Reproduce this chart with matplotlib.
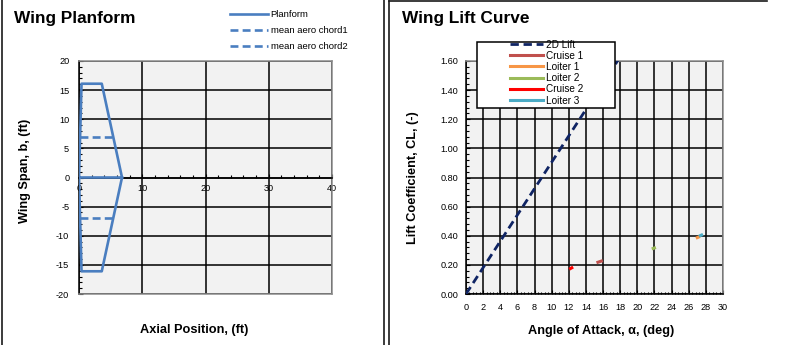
import matplotlib
matplotlib.use("Agg")
import matplotlib.pyplot as plt
from matplotlib.lines import Line2D
from matplotlib.patches import Rectangle
from matplotlib.ticker import MultipleLocator, FormatStrFormatter

plt.rcParams["font.family"] = ["Liberation Sans", "DejaVu Sans"]
plt.rcParams["axes.unicode_minus"] = False

# ---------------------------------------------------------------------------
# Data
# ---------------------------------------------------------------------------
planform_x = [6.8, 0.0, 0.4, 3.6, 6.8, 3.6, 0.4, 0.0]
planform_y = [0.0, 0.0, 16.1, 16.1, 0.0, -16.1, -16.1, 0.0]
mac1_x = [0.17, 5.43]
mac1_y = [6.9, 6.9]
mac2_x = [0.17, 5.43]
mac2_y = [-6.9, -6.9]

lift2d_alpha = [0.0, 20.0]
lift2d_cl = [0.0, 1.81]
cruise1_alpha = [15.4, 15.8]
cruise1_cl = [0.218, 0.226]
loiter1_alpha = [27.0, 27.15]
loiter1_cl = [0.387, 0.391]
loiter2_alpha = [21.85, 22.0]
loiter2_cl = [0.313, 0.316]
cruise2_alpha = [12.2, 12.35]
cruise2_cl = [0.175, 0.180]
loiter3_alpha = [27.35, 27.5]
loiter3_cl = [0.401, 0.405]

_BLUE = "#4A7EC0"
_NAVY = "#0F2464"
_PLOT_BG = "#F2F2F2"
_EDGE_GREY = "#8C8C8C"

W, H = 793, 345
fig = plt.figure(figsize=(W / 100, H / 100), dpi=100)


def fx(px):
    return px / W


def fy(py):
    return 1 - py / H


def _style_axes(ax):
    ax.set_facecolor(_PLOT_BG)
    ax.set_axisbelow(True)
    ax.grid(True, which="major", color="black", linewidth=1.1)
    for side in ("top", "right"):
        ax.spines[side].set_color(_EDGE_GREY)
        ax.spines[side].set_linewidth(1.1)
    for side in ("left", "bottom"):
        ax.spines[side].set_color("black")
        ax.spines[side].set_linewidth(1.1)
    ax.tick_params(which="both", direction="in", top=False, right=False,
                   labelsize=6.6, colors="black")
    ax.tick_params(which="major", length=3)
    ax.tick_params(which="minor", length=2, width=0.8)


# ---------------------------------------------------------------------------
# Left: wing planform
# ---------------------------------------------------------------------------
ax1 = fig.add_axes([fx(79), fy(294), fx(332 - 79), (294 - 61) / H])
_style_axes(ax1)
ax1.plot(planform_x, planform_y, color=_BLUE, linewidth=1.9,
         label="Planform", zorder=3)
ax1.plot(mac1_x, mac1_y, color=_BLUE, linewidth=1.9, linestyle=(0, (3, 1.6)),
         label="mean aero chord1", zorder=3)
ax1.plot(mac2_x, mac2_y, color=_BLUE, linewidth=1.9, linestyle=(0, (3, 1.6)),
         label="mean aero chord2", zorder=3)
ax1.set_xlim(0, 40)
ax1.set_ylim(-20, 20)
ax1.xaxis.set_major_locator(MultipleLocator(10))
ax1.xaxis.set_minor_locator(MultipleLocator(2))
ax1.yaxis.set_major_locator(MultipleLocator(5))
ax1.yaxis.set_minor_locator(MultipleLocator(1))
ax1.spines["bottom"].set_position(("data", 0))
ax1.tick_params(axis="x", pad=4.5)
ax1.tick_params(axis="y", pad=7)
# grey frame line at the bottom of the plot area
ax1.plot([0, 1], [0, 0], transform=ax1.transAxes, color=_EDGE_GREY,
         linewidth=1.1, clip_on=False, zorder=2.6)

fig.legend(
    handles=ax1.get_lines()[:3],
    loc="upper left", bbox_to_anchor=(fx(230), fy(10)),
    bbox_transform=fig.transFigure, frameon=False, fontsize=6.8,
    borderpad=0, borderaxespad=0, handlelength=4.0, handletextpad=0.3,
    labelspacing=0.75,
)

fig.text(fx(14), fy(19), "Wing Planform", fontsize=12.4, fontweight="bold",
         va="center", ha="left")
fig.text(fx(194), fy(330), "Axial Position, (ft)", fontsize=9.2,
         fontweight="bold", ha="center", va="center")
fig.text(fx(25), fy(171), "Wing Span, b, (ft)", fontsize=9.2,
         fontweight="bold", ha="center", va="center", rotation=90)

# ---------------------------------------------------------------------------
# Right: wing lift curve
# ---------------------------------------------------------------------------
ax2 = fig.add_axes([fx(466), fy(294), fx(723 - 466), (294 - 61) / H])
_style_axes(ax2)
ax2.plot(lift2d_alpha, lift2d_cl, color=_NAVY, linewidth=2.0,
         linestyle=(0, (3, 1.7)), label="2D Lift", zorder=3)
ax2.plot(cruise1_alpha, cruise1_cl, color="#C0504D", linewidth=2.2,
         label="Cruise 1", zorder=3)
ax2.plot(loiter1_alpha, loiter1_cl, color="#F79646", linewidth=2.2,
         label="Loiter 1", zorder=3)
ax2.plot(loiter2_alpha, loiter2_cl, color="#9BBB59", linewidth=2.2,
         label="Loiter 2", zorder=3)
ax2.plot(cruise2_alpha, cruise2_cl, color="#FF0000", linewidth=2.2,
         label="Cruise 2", zorder=3)
ax2.plot(loiter3_alpha, loiter3_cl, color="#4BACC6", linewidth=2.2,
         label="Loiter 3", zorder=3)
ax2.set_xlim(0, 30)
ax2.set_ylim(0, 1.6)
ax2.xaxis.set_major_locator(MultipleLocator(2))
ax2.xaxis.set_minor_locator(MultipleLocator(0.4))
ax2.yaxis.set_major_locator(MultipleLocator(0.2))
ax2.yaxis.set_minor_locator(MultipleLocator(0.04))
ax2.yaxis.set_major_formatter(FormatStrFormatter("%.2f"))
ax2.tick_params(axis="x", pad=6.5)
ax2.tick_params(axis="x", which="minor", length=1.5)
ax2.tick_params(axis="y", pad=5.5)

# legend box (white, black edge) sitting over the plot
fig.add_artist(Rectangle((fx(477), fy(108.3)), fx(615 - 477), (108.3 - 41.7) / H,
                         transform=fig.transFigure, facecolor="white",
                         edgecolor="black", linewidth=1.1, zorder=4))
fig.legend(
    handles=ax2.get_lines(),
    loc="upper left", bbox_to_anchor=(fx(510), fy(39.5)),
    bbox_transform=fig.transFigure, frameon=False, fontsize=7.2,
    borderpad=0, borderaxespad=0, handlelength=3.3, handletextpad=0.25,
    labelspacing=0.12,
)

fig.text(fx(402), fy(19), "Wing Lift Curve", fontsize=12.4, fontweight="bold",
         va="center", ha="left")
fig.text(fx(601), fy(331), "Angle of Attack, \u03b1, (deg)", fontsize=9.2,
         fontweight="bold", ha="center", va="center")
fig.text(fx(413), fy(178), "Lift Coefficient, CL, (-)", fontsize=9.2,
         fontweight="bold", ha="center", va="center", rotation=90)

# panel borders
for x0, y0, x1, y1 in [(2, 0, 2, 345), (384, 0, 384, 345),
                       (389, 1, 389, 345), (389, 1, 767, 1)]:
    fig.add_artist(Line2D([fx(x0), fx(x1)], [fy(y0), fy(y1)],
                          transform=fig.transFigure, color="#1A1A1A",
                          linewidth=1.2))

fig.savefig("out.png", dpi=100)
